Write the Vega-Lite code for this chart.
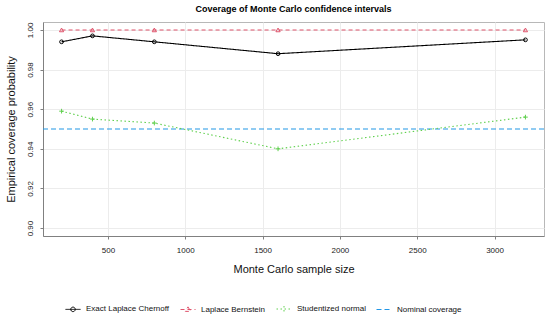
{
  "$schema": "https://vega.github.io/schema/vega-lite/v6.json",
  "autosize": "none",
  "width": 501,
  "height": 214,
  "padding": {"left": 43, "top": 22, "right": 6, "bottom": 83},
  "background": "white",
  "title": {"text": "Coverage of Monte Carlo confidence intervals", "fontSize": 9, "font": "Liberation Sans", "fontWeight": "bold", "color": "black", "offset": 8, "anchor": "middle"},
  "config": {
    "font": "Liberation Sans",
    "view": {"stroke": "#b8b8b8", "strokeWidth": 1},
    "axis": {"labelFont": "Liberation Sans", "titleFont": "Liberation Sans", "labelFontSize": 8, "labelColor": "#222", "titleColor": "#111", "titleFontWeight": "normal", "titleFontSize": 11, "domainColor": "#808080", "tickColor": "#808080", "tickSize": 3, "gridColor": "#ececec", "gridWidth": 1}
  },
  "datasets": {
    "cov": [
      {"n": 200, "value": 0.994, "series": "Exact Laplace Chernoff"},
      {"n": 400, "value": 0.997, "series": "Exact Laplace Chernoff"},
      {"n": 800, "value": 0.994, "series": "Exact Laplace Chernoff"},
      {"n": 1600, "value": 0.988, "series": "Exact Laplace Chernoff"},
      {"n": 3200, "value": 0.995, "series": "Exact Laplace Chernoff"},
      {"n": 200, "value": 1.0, "series": "Laplace Bernstein"},
      {"n": 400, "value": 1.0, "series": "Laplace Bernstein"},
      {"n": 800, "value": 1.0, "series": "Laplace Bernstein"},
      {"n": 1600, "value": 1.0, "series": "Laplace Bernstein"},
      {"n": 3200, "value": 1.0, "series": "Laplace Bernstein"},
      {"n": 200, "value": 0.959, "series": "Studentized normal"},
      {"n": 400, "value": 0.955, "series": "Studentized normal"},
      {"n": 800, "value": 0.953, "series": "Studentized normal"},
      {"n": 1600, "value": 0.94, "series": "Studentized normal"},
      {"n": 3200, "value": 0.956, "series": "Studentized normal"}
    ],
    "nominal": [
      {"value": 0.95, "series": "Nominal coverage"}
    ]
  },
  "layer": [
    {
      "data": {"name": "nominal"},
      "mark": {"type": "rule", "strokeWidth": 1.2},
      "encoding": {
        "y": {"field": "value", "type": "quantitative"},
        "color": {"field": "series", "type": "nominal"},
        "strokeDash": {"field": "series", "type": "nominal"}
      }
    },
    {
      "data": {"name": "cov"},
      "mark": {"type": "line", "strokeWidth": 1.1},
      "encoding": {
        "x": {"field": "n", "type": "quantitative", "title": "Monte Carlo sample size",
          "scale": {"domain": [80, 3320], "nice": false, "zero": false},
          "axis": {"values": [500, 1000, 1500, 2000, 2500, 3000], "format": "d", "labelPadding": 7, "titlePadding": 9, "labelFlush": false}},
        "y": {"field": "value", "type": "quantitative", "title": "Empirical coverage probability",
          "scale": {"domain": [0.896, 1.004], "nice": false, "zero": false},
          "axis": {"values": [0.9, 0.92, 0.94, 0.96, 0.98, 1.0], "format": ".2f", "labelAngle": 270, "labelAlign": "center", "labelBaseline": "bottom", "labelPadding": 6, "titlePadding": 10, "labelFlush": false}},
        "color": {"field": "series", "type": "nominal",
          "scale": {"domain": ["Exact Laplace Chernoff", "Laplace Bernstein", "Studentized normal", "Nominal coverage"], "range": ["#000000", "#DF536B", "#61D04F", "#2297E6"]},
          "legend": {
            "title": null, "orient": "none", "direction": "horizontal", "legendX": 22, "legendY": 279,
            "columns": 4, "columnPadding": 8, "labelFontSize": 8, "labelFont": "Liberation Sans", "labelColor": "#111", "labelOffset": 5,
            "symbolSize": 225, "symbolStrokeWidth": 1, "symbolFillColor": "transparent",
            "encode": {"symbols": {"update": {
              "shape": {"signal": "datum.value === 'Exact Laplace Chernoff' ? 'M-1,0H1M-0.3,0A0.3,0.3,0,1,1,0.3,0A0.3,0.3,0,1,1,-0.3,0' : datum.value === 'Laplace Bernstein' ? 'M-1,0H1M0,-0.35L0.35,0.25L-0.35,0.25Z' : datum.value === 'Studentized normal' ? 'M-1,0H1M0,-0.4V0.4' : 'M-1,0H1'"},
              "strokeDash": {"signal": "datum.value === 'Exact Laplace Chernoff' ? [1,0] : datum.value === 'Studentized normal' ? [1.5,2] : [3.5,2.5]"},
              "fill": {"value": "transparent"}
            }}}
          }},
        "strokeDash": {"field": "series", "type": "nominal",
          "scale": {"domain": ["Exact Laplace Chernoff", "Laplace Bernstein", "Studentized normal", "Nominal coverage"], "range": [[1, 0], [4, 3], [1.5, 2.5], [5, 3]]},
          "legend": null}
      }
    },
    {
      "data": {"name": "cov"},
      "mark": {"type": "point", "filled": false, "strokeWidth": 1, "opacity": 1},
      "encoding": {
        "x": {"field": "n", "type": "quantitative"},
        "y": {"field": "value", "type": "quantitative"},
        "color": {"field": "series", "type": "nominal"},
        "shape": {"field": "series", "type": "nominal",
          "scale": {"domain": ["Exact Laplace Chernoff", "Laplace Bernstein", "Studentized normal"], "range": ["circle", "triangle-up", "M-1,0H1M0,-1V1"]},
          "legend": null},
        "size": {"field": "series", "type": "nominal",
          "scale": {"domain": ["Exact Laplace Chernoff", "Laplace Bernstein", "Studentized normal"], "range": [14, 22, 30]},
          "legend": null}
      }
    }
  ]
}
